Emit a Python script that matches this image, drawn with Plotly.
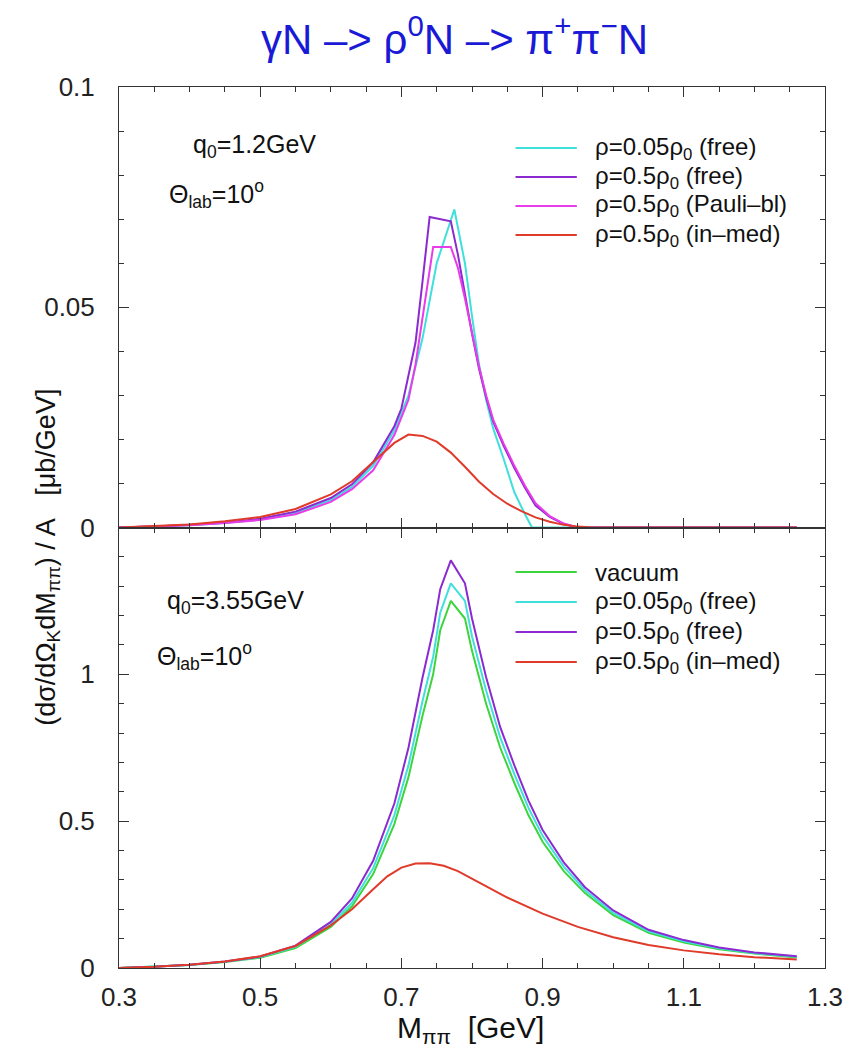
import plotly.graph_objects as go
from plotly.subplots import make_subplots

# ---------------- data: q0 = 1.2 GeV (upper panel) ----------------
m_free005_top = [0.30, 0.35, 0.40, 0.45, 0.50, 0.55, 0.60, 0.63, 0.66, 0.69, 0.71, 0.73, 0.75, 0.775,
                 0.79, 0.80, 0.81, 0.82, 0.83, 0.845, 0.86, 0.875, 0.885, 0.90, 1.00, 1.10, 1.20, 1.26]
v_free005_top = [0.0, 0.0002, 0.0005, 0.0010, 0.0018, 0.0033, 0.0062, 0.0092, 0.0140, 0.0220, 0.0300, 0.0430, 0.0600, 0.0722,
                 0.0600, 0.0480, 0.0370, 0.0290, 0.0225, 0.0155, 0.0080, 0.0030, 0.0, 0.0, 0.0, 0.0, 0.0, 0.0]

m_free05_top = [0.30, 0.35, 0.40, 0.45, 0.50, 0.55, 0.60, 0.63, 0.66, 0.69, 0.70, 0.72, 0.73, 0.74, 0.77,
                0.78, 0.79, 0.80, 0.81, 0.82, 0.83, 0.845, 0.86, 0.875, 0.89, 0.91, 0.93, 0.95, 1.00, 1.10, 1.20, 1.26]
v_free05_top = [0.0, 0.0002, 0.0006, 0.0011, 0.0020, 0.0036, 0.0067, 0.0098, 0.0148, 0.0230, 0.0270, 0.0420, 0.0560, 0.0705, 0.0695,
                0.0620, 0.0530, 0.0440, 0.0360, 0.0295, 0.0240, 0.0185, 0.0135, 0.0090, 0.0050, 0.0024, 0.0008, 0.0, 0.0, 0.0, 0.0, 0.0]

m_pauli_top = [0.30, 0.35, 0.40, 0.45, 0.50, 0.55, 0.60, 0.63, 0.66, 0.69, 0.71, 0.72, 0.73, 0.745, 0.77,
               0.78, 0.79, 0.80, 0.81, 0.82, 0.83, 0.845, 0.86, 0.875, 0.89, 0.91, 0.93, 0.95, 1.00, 1.10, 1.20, 1.26]
v_pauli_top = [0.0, 0.0002, 0.0005, 0.0010, 0.0017, 0.0030, 0.0058, 0.0087, 0.0130, 0.0210, 0.0290, 0.0370, 0.0480, 0.0637, 0.0637,
               0.0590, 0.0520, 0.0445, 0.0365, 0.0300, 0.0245, 0.0190, 0.0140, 0.0095, 0.0055, 0.0026, 0.0009, 0.0, 0.0, 0.0, 0.0, 0.0]

m_inmed_top = [0.30, 0.35, 0.40, 0.45, 0.50, 0.55, 0.60, 0.63, 0.66, 0.69, 0.71, 0.73, 0.75, 0.77,
               0.79, 0.81, 0.83, 0.85, 0.87, 0.89, 0.91, 0.93, 0.95, 0.97, 1.00, 1.10, 1.20, 1.26]
v_inmed_top = [0.0, 0.0003, 0.0007, 0.0014, 0.0024, 0.0042, 0.0075, 0.0105, 0.0148, 0.0192, 0.0211, 0.0208, 0.0195, 0.0170,
               0.0138, 0.0104, 0.0076, 0.0054, 0.0037, 0.0023, 0.0013, 0.0006, 0.0002, 0.0, 0.0, 0.0, 0.0, 0.0]

# ---------------- data: q0 = 3.55 GeV (lower panel) ----------------
m_bot = [0.30, 0.35, 0.40, 0.45, 0.50, 0.55, 0.60, 0.63, 0.66, 0.69, 0.71, 0.73, 0.745, 0.755, 0.77,
         0.79, 0.80, 0.82, 0.84, 0.86, 0.88, 0.90, 0.93, 0.96, 1.00, 1.05, 1.10, 1.15, 1.20, 1.26]
v_vacuum_bot = [0.0, 0.004, 0.010, 0.020, 0.035, 0.068, 0.140, 0.210, 0.320, 0.490, 0.650, 0.860, 1.000, 1.150, 1.250,
                1.190, 1.080, 0.900, 0.750, 0.630, 0.520, 0.430, 0.330, 0.255, 0.180, 0.120, 0.087, 0.064, 0.049, 0.036]
v_free005_bot = [0.0, 0.004, 0.010, 0.021, 0.037, 0.072, 0.148, 0.222, 0.340, 0.520, 0.690, 0.910, 1.060, 1.210, 1.310,
                 1.250, 1.130, 0.945, 0.785, 0.660, 0.545, 0.450, 0.345, 0.265, 0.188, 0.125, 0.091, 0.067, 0.051, 0.038]
v_free05_bot = [0.0, 0.004, 0.011, 0.022, 0.039, 0.076, 0.157, 0.237, 0.365, 0.560, 0.750, 0.990, 1.150, 1.290, 1.388,
                1.310, 1.190, 0.990, 0.820, 0.690, 0.570, 0.470, 0.360, 0.275, 0.196, 0.130, 0.095, 0.070, 0.053, 0.040]

m_inmed_bot = [0.30, 0.35, 0.40, 0.45, 0.50, 0.55, 0.60, 0.63, 0.66, 0.68, 0.70, 0.72, 0.74, 0.76, 0.78, 0.81,
               0.85, 0.90, 0.95, 1.00, 1.05, 1.10, 1.15, 1.20, 1.26]
v_inmed_bot = [0.0, 0.004, 0.011, 0.022, 0.040, 0.075, 0.145, 0.200, 0.268, 0.312, 0.342, 0.356, 0.357, 0.348, 0.330, 0.292,
               0.240, 0.185, 0.140, 0.105, 0.078, 0.060, 0.047, 0.037, 0.029]

# ---------------- styling ----------------
C_CYAN = "#3fe0dc"
C_PURPLE = "#8a2ad0"
C_MAGENTA = "#e83ce8"
C_RED = "#e03a2a"
C_GREEN = "#3ed43e"
FONT = "Liberation Sans, Arial, Helvetica, sans-serif"
LW = 2

fig = make_subplots(rows=2, cols=1, shared_xaxes=True, vertical_spacing=0)

top_series = [
    (m_free005_top, v_free005_top, C_CYAN, "ρ=0.05ρ<sub>0</sub> (free)"),
    (m_free05_top, v_free05_top, C_PURPLE, "ρ=0.5ρ<sub>0</sub> (free)"),
    (m_pauli_top, v_pauli_top, C_MAGENTA, "ρ=0.5ρ<sub>0</sub> (Pauli–bl)"),
    (m_inmed_top, v_inmed_top, C_RED, "ρ=0.5ρ<sub>0</sub> (in–med)"),
]
bot_series = [
    (m_bot, v_vacuum_bot, C_GREEN, "vacuum"),
    (m_bot, v_free005_bot, C_CYAN, "ρ=0.05ρ<sub>0</sub> (free)"),
    (m_bot, v_free05_bot, C_PURPLE, "ρ=0.5ρ<sub>0</sub> (free)"),
    (m_inmed_bot, v_inmed_bot, C_RED, "ρ=0.5ρ<sub>0</sub> (in–med)"),
]

for xs, ys, col, name in top_series:
    fig.add_trace(go.Scatter(x=xs, y=ys, mode="lines", line=dict(color=col, width=LW),
                             name=name, showlegend=False), row=1, col=1)
for xs, ys, col, name in bot_series:
    fig.add_trace(go.Scatter(x=xs, y=ys, mode="lines", line=dict(color=col, width=LW),
                             name=name, showlegend=False), row=2, col=1)

axis_common = dict(showline=True, linecolor="#333333", linewidth=1, mirror="ticks",
                   ticks="inside", ticklen=10, tickcolor="#333333", showgrid=False, zeroline=False,
                   tickfont=dict(family=FONT, size=26, color="#222222"))

fig.update_xaxes(range=[0.3, 1.3], tickvals=[0.3, 0.5, 0.7, 0.9, 1.1, 1.3],
                 ticktext=["0.3", "0.5", "0.7", "0.9", "1.1", "1.3"], ticklabelstandoff=6,
                 minor=dict(dtick=0.05, tick0=0.3, ticklen=5, ticks="inside", tickcolor="#333333"),
                 **axis_common)
fig.update_xaxes(showticklabels=False, row=1, col=1)
fig.update_yaxes(range=[0, 0.1], tickvals=[0, 0.05, 0.1], ticktext=["0", "0.05", "0.1"],
                 ticklabelstandoff=18,
                 minor=dict(dtick=0.01, tick0=0, ticklen=5, ticks="inside", tickcolor="#333333"),
                 row=1, col=1, **axis_common)
fig.update_yaxes(range=[0, 1.5], tickvals=[0, 0.5, 1], ticktext=["0", "0.5", "1"],
                 ticklabelstandoff=18,
                 minor=dict(dtick=0.1, tick0=0, ticklen=5, ticks="inside", tickcolor="#333333"),
                 row=2, col=1, **axis_common)

# plot area in pixels: x 119..833, y 87..968
L, R, T, B = 119, 833, 87, 968
W, H = 855, 1053


def px(x):
    return (x - L) / (R - L)


def py(y):
    return (B - y) / (B - T)


annotations = []
shapes = []


def text(x, y, s, size, anchor="left", color="#111111", angle=0):
    annotations.append(dict(x=px(x), y=py(y), xref="paper", yref="paper", text=s, showarrow=False,
                            xanchor=anchor, yanchor="middle", textangle=angle,
                            font=dict(family=FONT, size=size, color=color)))


# title
text(458, 36, "γN –> ρ<sup>0</sup>N –> π<sup>+</sup>π<sup>−</sup>N", 42, anchor="center", color="#1a1ad6")

# axis titles
text(474, 1029, "M<sub>ππ</sub>\u00a0\u00a0[GeV]", 30, anchor="center")
text(47, 557, "(dσ/dΩ<sub>K</sub>dM<sub>ππ</sub>) / A\u00a0\u00a0\u00a0[μb/GeV]", 27, anchor="center", angle=-90)

# kinematics labels
text(192, 146, "q<sub>0</sub>=1.2GeV", 25)
text(168, 194, "Θ<sub>lab</sub>=10<sup>o</sup>", 25)
text(166, 602, "q<sub>0</sub>=3.55GeV", 25)
text(155, 656, "Θ<sub>lab</sub>=10<sup>o</sup>", 25)

# legends
for i, (_, _, col, name) in enumerate(top_series):
    yy = 148 + 29 * i
    shapes.append(dict(type="line", xref="paper", yref="paper", x0=px(520), x1=px(582),
                       y0=py(yy), y1=py(yy), line=dict(color=col, width=LW)))
    text(598, yy, name, 24)
for i, (_, _, col, name) in enumerate(bot_series):
    yy = 572 + 30 * i
    shapes.append(dict(type="line", xref="paper", yref="paper", x0=px(520), x1=px(582),
                       y0=py(yy), y1=py(yy), line=dict(color=col, width=LW)))
    text(598, yy, name, 24)

fig.update_layout(width=W, height=H, margin=dict(l=L, r=W - R, t=T, b=H - B),
                  plot_bgcolor="white", paper_bgcolor="white", showlegend=False,
                  annotations=annotations, shapes=shapes)

fig.write_html("out.html")
